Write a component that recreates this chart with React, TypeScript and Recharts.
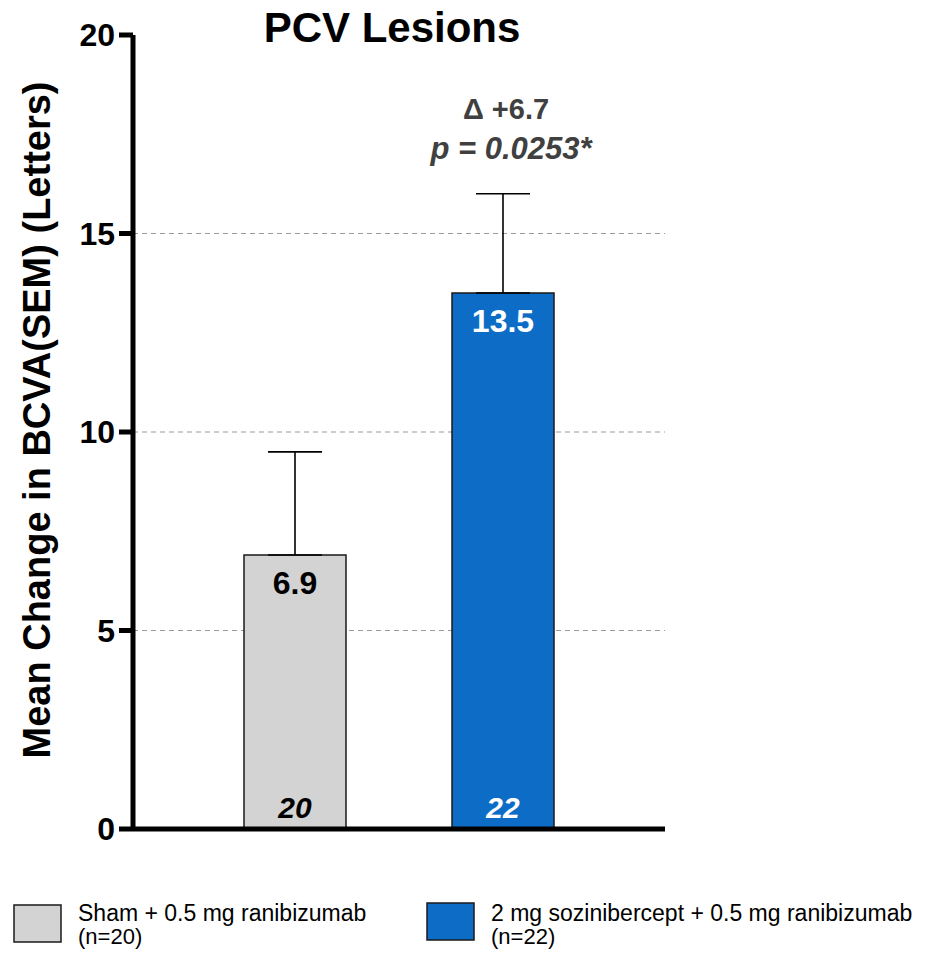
import React from 'react';
import { BarChart, Bar, XAxis, YAxis, CartesianGrid, ErrorBar, Cell, LabelList } from 'recharts';

const groups = ['Sham + 0.5 mg ranibizumab', '2 mg sozinibercept + 0.5 mg ranibizumab'];
const nCounts = [20, 22];
const means = [6.9, 13.5];
const sems = [2.6, 2.5];
const barColors = ['#d3d3d3', '#0d6dc6'];
const labelColors = ['#000000', '#ffffff'];
const yTicks = [0, 5, 10, 15, 20];
const gridValues = [5, 10, 15];
const deltaText = 'Δ +6.7';
const pText = 'p = 0.0253*';

const data = groups.map((name, i) => ({
  name,
  mean: means[i],
  err: [0, sems[i]],
  n: nCounts[i],
}));

const FONT = "'Liberation Sans', Arial, sans-serif";

const ValueLabel = (props: any) => {
  const { x, y, width, value, index } = props;
  return (
    <text x={x + width / 2} y={y + 39} textAnchor="middle" fontFamily={FONT} fontSize={32} fontWeight="bold" fill={labelColors[index]}>
      {value}
    </text>
  );
};

const CountLabel = (props: any) => {
  const { x, y, width, height, value, index } = props;
  return (
    <text x={x + width / 2} y={y + height - 11} textAnchor="middle" fontFamily={FONT} fontSize={30} fontWeight="bold" fontStyle="italic" fill={labelColors[index]}>
      {value}
    </text>
  );
};

export default function App() {
  return (
    <div style={{ position: 'absolute', left: 0, top: 0, width: 928, height: 953, background: '#fff', fontFamily: FONT }}>
      <BarChart width={928} height={953} data={data} margin={{ top: 35, right: 263, bottom: 122, left: 0 }}>
        <CartesianGrid
          vertical={false}
          stroke="#9a9a9a"
          strokeWidth={1.2}
          strokeDasharray="5 4"
          horizontalValues={gridValues}
        />
        <XAxis
          dataKey="name"
          tick={false}
          tickLine={false}
          height={2}
          padding={{ left: 58, right: 58 }}
          axisLine={{ stroke: '#000', strokeWidth: 5 }}
        />
        <YAxis
          domain={[0, 20]}
          ticks={yTicks}
          interval={0}
          width={133}
          tickSize={14}
          tickMargin={4}
          axisLine={{ stroke: '#000', strokeWidth: 5 }}
          tickLine={{ stroke: '#000', strokeWidth: 5 }}
          tick={{ fill: '#000', fontSize: 32, fontWeight: 'bold', fontFamily: FONT }}
        />
        <Bar dataKey="mean" barSize={102} stroke="#1a1a1a" strokeWidth={1.5} isAnimationActive={false}>
          {data.map((d, i) => (
            <Cell key={d.name} fill={barColors[i]} />
          ))}
          <ErrorBar dataKey="err" width={27} stroke="#000" strokeWidth={1.6} direction="y" />
          <LabelList dataKey="mean" content={ValueLabel} />
          <LabelList dataKey="n" content={CountLabel} />
        </Bar>
      </BarChart>
      <svg width={928} height={953} style={{ position: 'absolute', left: 0, top: 0, pointerEvents: 'none' }}>
        <text x={392} y={42} textAnchor="middle" fontFamily={FONT} fontSize={42} fontWeight="bold" fill="#000">
          PCV Lesions
        </text>
        <text x={506} y={119} textAnchor="middle" fontFamily={FONT} fontSize={29} fontWeight="bold" fill="#404040">
          {deltaText}
        </text>
        <text x={511} y={159} textAnchor="middle" fontFamily={FONT} fontSize={31} fontWeight="bold" fontStyle="italic" fill="#404040">
          {pText}
        </text>
        <text
          x={37}
          y={420}
          transform="rotate(-90 37 420)"
          textAnchor="middle"
          dominantBaseline="central"
          fontFamily={FONT}
          fontSize={38}
          fontWeight="bold"
          fill="#000"
        >
          Mean Change in BCVA(SEM) (Letters)
        </text>
        {groups.map((g, i) => {
          const lx = i === 0 ? 14 : 427;
          const ly = i === 0 ? 905 : 903;
          return (
            <g key={g}>
              <rect x={lx} y={ly} width={47} height={37} fill={barColors[i]} stroke="#1a1a1a" strokeWidth={1.5} />
              <text x={lx + 64} y={921} fontFamily={FONT} fontSize={23} fill="#000">
                {g}
              </text>
              <text x={lx + 64} y={944} fontFamily={FONT} fontSize={22} fill="#000">
                (n={nCounts[i]})
              </text>
            </g>
          );
        })}
      </svg>
    </div>
  );
}
